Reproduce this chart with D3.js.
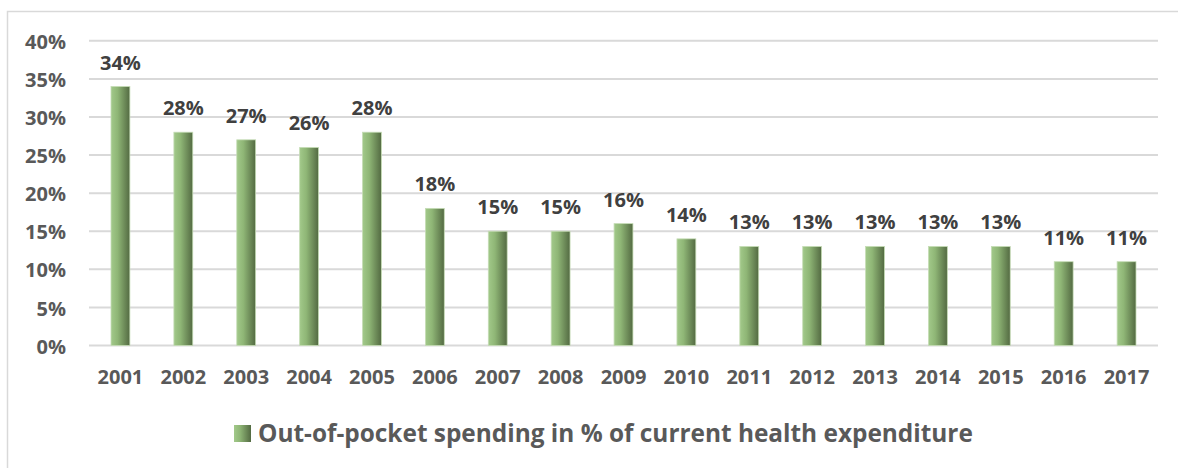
<!DOCTYPE html>
<html>
<head>
<meta charset="utf-8">
<script src="https://cdn.jsdelivr.net/npm/d3@7/dist/d3.min.js"></script>
<style>
  body { margin: 0; background: #fff; }
  svg text { font-family: "Open Sans", "Liberation Sans", sans-serif; font-weight: bold; }
</style>
</head>
<body>
<svg id="chart" width="1178" height="468"></svg>
<script>
var years = ["2001","2002","2003","2004","2005","2006","2007","2008","2009","2010","2011","2012","2013","2014","2015","2016","2017"];
var values = [34, 28, 27, 26, 28, 18, 15, 15, 16, 14, 13, 13, 13, 13, 13, 11, 11];
var yTicks = [0, 5, 10, 15, 20, 25, 30, 35, 40];
var seriesName = "Out-of-pocket spending in % of current health expenditure";

var svg = d3.select("#chart");

// outer frame
svg.append("rect")
  .attr("x", 7.5).attr("y", 11.5)
  .attr("width", 1200).attr("height", 500)
  .attr("fill", "#fff")
  .attr("stroke", "#d9d9d9")
  .attr("stroke-width", 1.5);

var defs = svg.append("defs");
var grad = defs.append("linearGradient")
  .attr("id", "barGrad")
  .attr("x1", "0%").attr("x2", "100%").attr("y1", "0%").attr("y2", "0%");
grad.append("stop").attr("offset", "0%").attr("stop-color", "#a2c98a");
grad.append("stop").attr("offset", "35%").attr("stop-color", "#8fb676");
grad.append("stop").attr("offset", "100%").attr("stop-color", "#536a42");

var x = d3.scaleBand()
  .domain(years)
  .range([89, 1158])
  .paddingInner(0.7)
  .paddingOuter(0.35);

var y = d3.scaleLinear()
  .domain([0, 40])
  .range([345.5, 40.8]);

// gridlines
svg.append("g")
  .selectAll("line")
  .data(yTicks)
  .enter()
  .append("line")
  .attr("x1", 89).attr("x2", 1158)
  .attr("y1", function(d) { return y(d); })
  .attr("y2", function(d) { return y(d); })
  .attr("stroke", "#d9d9d9")
  .attr("stroke-width", 2);

// y axis labels
var yAxis = d3.axisLeft(y)
  .tickValues(yTicks)
  .tickSize(0)
  .tickPadding(0)
  .tickFormat(function(d) { return d + "%"; });
var yg = svg.append("g")
  .attr("transform", "translate(66,0)")
  .call(yAxis);
yg.select(".domain").remove();
yg.selectAll("text")
  .attr("fill", "#595959")
  .style("font-size", "20px")
  .attr("dy", "0.38em");

// bars
svg.append("g")
  .selectAll("rect")
  .data(values)
  .enter()
  .append("rect")
  .attr("x", function(d, i) { return x(years[i]); })
  .attr("y", function(d) { return y(d); })
  .attr("width", x.bandwidth())
  .attr("height", function(d) { return y(0) - y(d); })
  .attr("fill", "url(#barGrad)")
  .attr("stroke", "#c5dcb5")
  .attr("stroke-width", 0.8);

// data labels
svg.append("g")
  .selectAll("text")
  .data(values)
  .enter()
  .append("text")
  .attr("x", function(d, i) { return x(years[i]) + x.bandwidth() / 2; })
  .attr("y", function(d) { return y(d) - 17; })
  .attr("text-anchor", "middle")
  .attr("fill", "#404040")
  .style("font-size", "20px")
  .text(function(d) { return d + "%"; });

// x axis labels
var xAxis = d3.axisBottom(x).tickSize(0).tickPadding(0);
var xg = svg.append("g")
  .attr("transform", "translate(0,384)")
  .call(xAxis);
xg.select(".domain").remove();
xg.selectAll("text")
  .attr("fill", "#595959")
  .style("font-size", "20px")
  .attr("y", 0)
  .attr("dy", "0");

// legend
var legend = svg.append("g").attr("transform", "translate(234,425)");
legend.append("rect")
  .attr("width", 17).attr("height", 17)
  .attr("fill", "url(#barGrad)");
legend.append("text")
  .attr("x", 24).attr("y", 17)
  .attr("fill", "#595959")
  .style("font-size", "24.4px")
  .text(seriesName);
</script>
</body>
</html>
